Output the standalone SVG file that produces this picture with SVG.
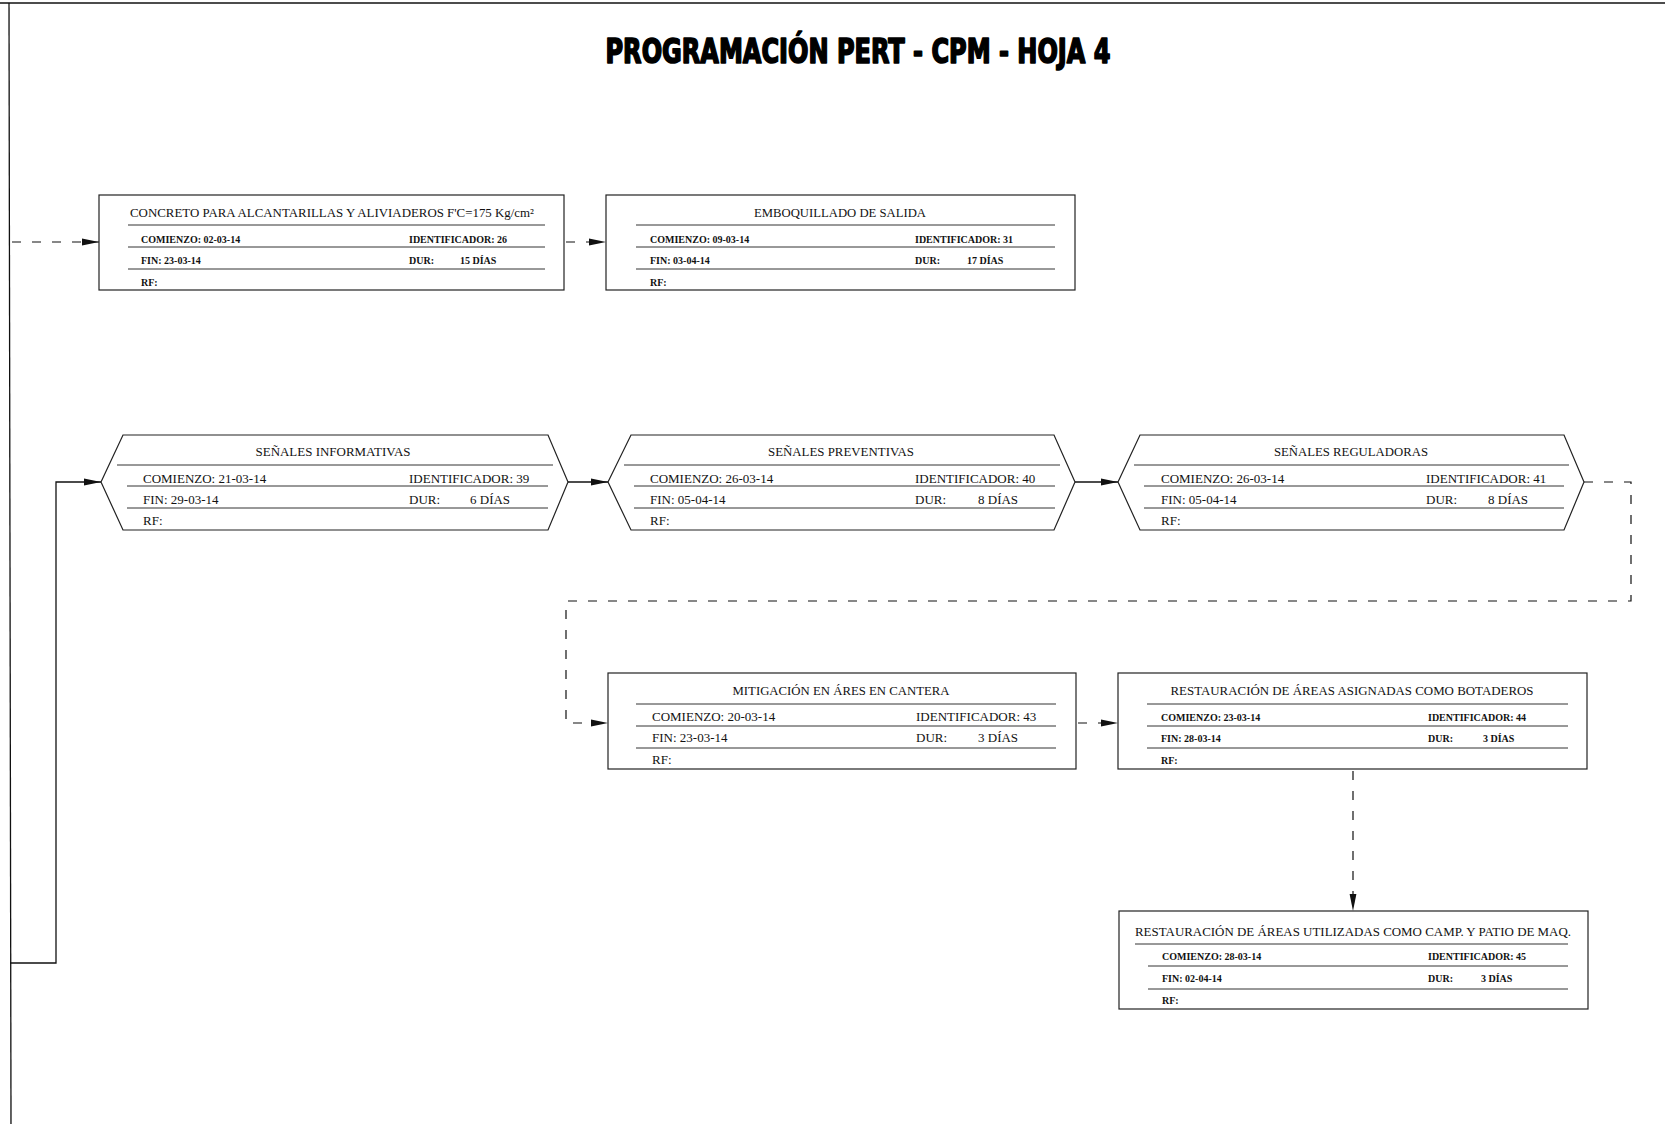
<svg xmlns="http://www.w3.org/2000/svg" width="1665" height="1124" viewBox="0 0 1665 1124">
<style>
.box{fill:#fff;stroke:#222;stroke-width:1.2}
.ln{stroke:#333;stroke-width:1;fill:none}
.t{font-family:"Liberation Serif","Times New Roman",serif;fill:#111}
.ti{font-size:13px;text-anchor:middle}
.r{font-size:13px}
.s{font-size:10px;font-weight:bold}
.c{stroke:#111;stroke-width:1.3;fill:none}
.d{stroke:#111;stroke-width:1.2;fill:none;stroke-dasharray:9 11}
.title{font-family:"Liberation Sans Narrow","DejaVu Sans Condensed","Liberation Sans",sans-serif;font-weight:bold;font-size:33px;fill:#000;stroke:#000;stroke-width:1.6;stroke-linejoin:round;text-anchor:middle}
</style>
<defs>
<marker id="ar" markerUnits="userSpaceOnUse" markerWidth="18" markerHeight="8" refX="17" refY="4" orient="auto">
<path d="M0,0.6 L17,4 L0,7.4 Z" fill="#111"/>
</marker>
</defs>
<rect x="0" y="0" width="1665" height="1124" fill="#fff"/>
<g id="frame">
<line x1="0" y1="3" x2="1665" y2="3" class="c"/>
<line x1="9" y1="3" x2="11" y2="1124" class="c"/>
</g>
<text class="title" x="858" y="63" textLength="505" lengthAdjust="spacingAndGlyphs">PROGRAMACIÓN PERT - CPM - HOJA 4</text>

<g id="connectors">
<line x1="12" y1="242" x2="99" y2="242" class="d" marker-end="url(#ar)"/>
<line x1="566" y1="242" x2="606" y2="242" class="d" stroke-dasharray="6 14" marker-end="url(#ar)"/>
<polyline points="10,963 56,963 56,482 101,482" class="c" marker-end="url(#ar)"/>
<line x1="568" y1="482" x2="608" y2="482" class="c" marker-end="url(#ar)"/>
<line x1="1075" y1="482" x2="1118" y2="482" class="c" marker-end="url(#ar)"/>
<polyline points="1584,482 1631,482 1631,601 566,601 566,723 608,723" class="d" marker-end="url(#ar)"/>
<line x1="1078" y1="723" x2="1118" y2="723" class="d" stroke-dasharray="6 14" marker-end="url(#ar)"/>
<line x1="1353" y1="771" x2="1353" y2="911" class="d" marker-end="url(#ar)"/>
</g>

<g id="n26">
<rect class="box" x="99" y="195" width="465" height="95"/>
<path class="ln" d="M128,225H545M128,247H545M128,269H545"/>
<text class="t ti" x="332" y="217" textLength="404" lengthAdjust="spacingAndGlyphs">CONCRETO PARA ALCANTARILLAS Y ALIVIADEROS F'C=175 Kg/cm²</text>
<text class="t s" x="141" y="243">COMIENZO: 02-03-14</text>
<text class="t s" x="409" y="243">IDENTIFICADOR: 26</text>
<text class="t s" x="141" y="264">FIN: 23-03-14</text>
<text class="t s" x="409" y="264">DUR:</text>
<text class="t s" x="460" y="264">15 DÍAS</text>
<text class="t s" x="141" y="286">RF:</text>
</g>

<g id="n31">
<rect class="box" x="606" y="195" width="469" height="95"/>
<path class="ln" d="M636,225H1055M636,247H1055M636,269H1055"/>
<text class="t ti" x="840" y="217" textLength="172" lengthAdjust="spacingAndGlyphs">EMBOQUILLADO DE SALIDA</text>
<text class="t s" x="650" y="243">COMIENZO: 09-03-14</text>
<text class="t s" x="915" y="243">IDENTIFICADOR: 31</text>
<text class="t s" x="650" y="264">FIN: 03-04-14</text>
<text class="t s" x="915" y="264">DUR:</text>
<text class="t s" x="967" y="264">17 DÍAS</text>
<text class="t s" x="650" y="286">RF:</text>
</g>

<g id="n39">
<polygon class="box" points="101,482 123,435 548,435 568,482 548,530 123,530"/>
<path class="ln" d="M117,465H553M127,486H548M127,508H548"/>
<text class="t ti" x="333" y="456" textLength="155" lengthAdjust="spacingAndGlyphs">SEÑALES INFORMATIVAS</text>
<text class="t r" x="143" y="483">COMIENZO: 21-03-14</text>
<text class="t r" x="409" y="483">IDENTIFICADOR: 39</text>
<text class="t r" x="143" y="504">FIN: 29-03-14</text>
<text class="t r" x="409" y="504">DUR:</text>
<text class="t r" x="470" y="504">6 DÍAS</text>
<text class="t r" x="143" y="525">RF:</text>
</g>

<g id="n40">
<polygon class="box" points="608,482 631,435 1054,435 1075,482 1054,530 631,530"/>
<path class="ln" d="M624,465H1060M634,486H1055M634,508H1055"/>
<text class="t ti" x="841" y="456" textLength="146" lengthAdjust="spacingAndGlyphs">SEÑALES PREVENTIVAS</text>
<text class="t r" x="650" y="483">COMIENZO: 26-03-14</text>
<text class="t r" x="915" y="483">IDENTIFICADOR: 40</text>
<text class="t r" x="650" y="504">FIN: 05-04-14</text>
<text class="t r" x="915" y="504">DUR:</text>
<text class="t r" x="978" y="504">8 DÍAS</text>
<text class="t r" x="650" y="525">RF:</text>
</g>

<g id="n41">
<polygon class="box" points="1118,482 1140,435 1564,435 1584,482 1564,530 1140,530"/>
<path class="ln" d="M1134,465H1569M1144,486H1564M1144,508H1564"/>
<text class="t ti" x="1351" y="456" textLength="154" lengthAdjust="spacingAndGlyphs">SEÑALES REGULADORAS</text>
<text class="t r" x="1161" y="483">COMIENZO: 26-03-14</text>
<text class="t r" x="1426" y="483">IDENTIFICADOR: 41</text>
<text class="t r" x="1161" y="504">FIN: 05-04-14</text>
<text class="t r" x="1426" y="504">DUR:</text>
<text class="t r" x="1488" y="504">8 DÍAS</text>
<text class="t r" x="1161" y="525">RF:</text>
</g>

<g id="n43">
<rect class="box" x="608" y="673" width="468" height="96"/>
<path class="ln" d="M636,704H1056M636,726H1056M636,748H1056"/>
<text class="t ti" x="841" y="695" textLength="217" lengthAdjust="spacingAndGlyphs">MITIGACIÓN EN ÁRES EN CANTERA</text>
<text class="t r" x="652" y="721">COMIENZO: 20-03-14</text>
<text class="t r" x="916" y="721">IDENTIFICADOR: 43</text>
<text class="t r" x="652" y="742">FIN: 23-03-14</text>
<text class="t r" x="916" y="742">DUR:</text>
<text class="t r" x="978" y="742">3 DÍAS</text>
<text class="t r" x="652" y="764">RF:</text>
</g>

<g id="n44">
<rect class="box" x="1118" y="673" width="469" height="96"/>
<path class="ln" d="M1147,704H1568M1147,726H1568M1147,748H1568"/>
<text class="t ti" x="1352" y="695" textLength="363" lengthAdjust="spacingAndGlyphs">RESTAURACIÓN DE ÁREAS ASIGNADAS COMO BOTADEROS</text>
<text class="t s" x="1161" y="721">COMIENZO: 23-03-14</text>
<text class="t s" x="1428" y="721">IDENTIFICADOR: 44</text>
<text class="t s" x="1161" y="742">FIN: 28-03-14</text>
<text class="t s" x="1428" y="742">DUR:</text>
<text class="t s" x="1483" y="742">3 DÍAS</text>
<text class="t s" x="1161" y="764">RF:</text>
</g>

<g id="n45">
<rect class="box" x="1119" y="911" width="469" height="98"/>
<path class="ln" d="M1135,944H1568M1148,966H1568M1148,989H1568"/>
<text class="t ti" x="1353" y="936" textLength="436" lengthAdjust="spacingAndGlyphs">RESTAURACIÓN DE ÁREAS UTILIZADAS COMO CAMP. Y PATIO DE MAQ.</text>
<text class="t s" x="1162" y="960">COMIENZO: 28-03-14</text>
<text class="t s" x="1428" y="960">IDENTIFICADOR: 45</text>
<text class="t s" x="1162" y="982">FIN: 02-04-14</text>
<text class="t s" x="1428" y="982">DUR:</text>
<text class="t s" x="1481" y="982">3 DÍAS</text>
<text class="t s" x="1162" y="1004">RF:</text>
</g>
</svg>
